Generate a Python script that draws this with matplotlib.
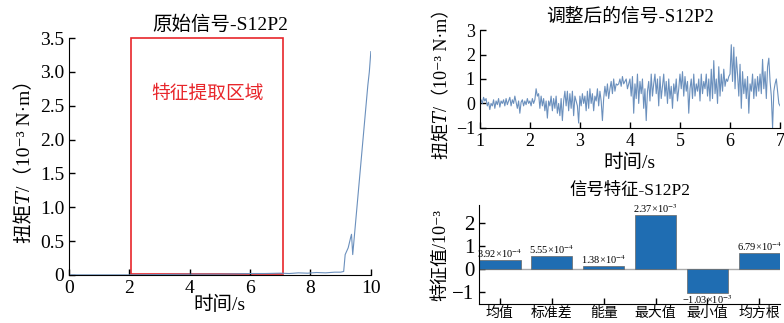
import numpy as np
import matplotlib
matplotlib.use("Agg")
import matplotlib.pyplot as plt

plt.rcParams['font.family'] = ['Liberation Serif', 'Noto Sans CJK SC', 'DejaVu Serif', 'DejaVu Sans']
plt.rcParams['font.weight'] = 'light'
plt.rcParams['mathtext.fontset'] = 'stix'
plt.rcParams['axes.unicode_minus'] = True

# -- raw signal (0..10 s)
t_raw = [0, 1, 2, 3, 4, 5, 6, 6.5, 7, 7.3, 7.6, 7.9, 8.2, 8.5, 8.8, 9.0, 9.1,
         9.15, 9.25, 9.33, 9.36, 9.4, 9.45, 9.5, 9.6, 9.7, 9.8, 9.9, 9.95, 10.0]
T_raw = [0, 0, 0, 0.005, 0.01, 0.01, 0.02, 0.02, 0.025, 0.02, 0.03, 0.025, 0.035, 0.03,
         0.04, 0.04, 0.05, 0.3, 0.4, 0.55, 0.6, 0.3, 0.55, 0.8, 1.3, 1.8, 2.3, 2.8, 3.0, 3.3]

# -- adjusted signal (1..7 s, dt = 0.025)
t_adj = np.linspace(1, 7, 241)
T_adj = [
    0.05, 0.15, 0.0, 0.25, 0.1, 0.2, -0.1, 0.05, -0.25, 0.0, -0.1, 0.15, -0.2, 0.1, -0.05, 0.2, -0.15, 0.1, 0.0, 0.15,
    -0.1, 0.2, -0.05, 0.1, 0.25, -0.1, 0.15, 0.0, 0.3, 0.05, -0.2, 0.1, -0.4, 0.05, 0.15, -0.1, 0.1, -0.05, 0.2, 0.0,
    0.1, -0.1, 0.2, 0.0, 0.15, 0.6, 0.3, 0.4, -0.2, 0.3, -0.1, 0.2, -0.3, 0.1, -0.6, 0.1, -0.1, 0.3, -0.3, 0.2,
    -0.2, 0.3, -0.4, 0.0, -0.5, 0.2, -0.7, 0.1, 0.5, -0.1, 0.5, -0.3, 0.4, -0.2, 0.5, -0.5, 0.3, 0.1, -0.1, -0.8,
    0.3, -0.1, 0.4, 0.0, 0.3, -0.3, 0.5, -0.2, 0.6, 0.0, 0.4, -0.3, 0.3, 0.1, 0.6, -0.1, 0.5, 0.1, -0.7, 0.2,
    0.7, 0.3, 0.8, 0.2, 0.6, 0.9, 0.4, 1.0, 0.5, 0.8, 0.75, 0.8, 1.0, 0.7, 1.1, 0.8, 0.9, 1.0, 0.6, 0.8,
    1.0, 0.3, 1.1, -0.4, 0.8, 0.2, 1.2, 0.0, 0.9, 0.4, 1.0, -0.2, 0.6, -0.7, 0.5, 0.9, 0.1, 1.2, 0.3, 0.8,
    1.2, 0.4, 1.0, -0.1, 1.1, 0.2, 0.7, 1.2, 0.3, 0.9, 0.0, 1.0, 0.2, 0.7, -0.2, 0.8, 0.4, 1.0, 0.1, 0.6,
    1.2, 0.6, 1.3, 0.3, 1.1, 0.5, 0.9, -0.4, 0.6, 1.0, 0.2, 1.2, 0.3, 0.8, 0.5, 1.0, 0.1, 1.2, 0.4, 0.9,
    0.6, 1.2, 0.3, 1.0, 0.1, 1.4, 0.2, 1.75, 0.4, 1.0, 0.0, 1.5, 0.3, 1.2, 0.5, 1.4, 0.7, 1.0, 0.9, 1.1,
    1.2, 2.4, 0.9, 2.3, 0.6, 1.9, 1.2, 0.3, 1.6, -0.2, 1.3, 0.4, 1.0, 0.2, 1.1, -0.4, 0.8, 0.5, 1.2, 0.2,
    1.0, 0.3, 1.1, 0.5, 1.2, 0.4, 1.8, 0.6, 1.3, 0.2, 1.5, 1.85, 0.9, 0.3, -1.0, 0.5, 0.8, 1.0, 0.5, 0.0, -0.1,
]

# -- features (x 10^-3)
feat_names = ['均值', '标准差', '能量', '最大值', '最小值', '均方根']
feat_vals = [0.392, 0.555, 0.138, 2.37, -1.03, 0.679]
feat_labels = [r'3.92×10$^{-4}$', r'5.55×10$^{-4}$', r'1.38×10$^{-4}$',
               r'2.37×10$^{-3}$', r'−1.03×10$^{-3}$', r'6.79×10$^{-4}$']

line_c = '#6b90bd'
ylab = '扭矩𝑇/（10⁻³ N·m）'

fig = plt.figure(figsize=(7.84, 3.23), dpi=100)

def style(ax, size):
    for s in ['top', 'right']:
        ax.spines[s].set_visible(False)
    ax.tick_params(direction='in', labelsize=size, length=4, width=1)

# left: raw signal
ax1 = fig.add_axes([0.088, 0.149, 0.385, 0.733])
ax1.plot(t_raw, T_raw, color=line_c, lw=0.8)
ax1.add_patch(plt.Rectangle((2.05, 0.01), 5.05, 3.49, fill=False, ec='#e8262b', lw=1.2, clip_on=False))
ax1.text(4.6, 2.68, '特征提取区域', color='#e8262b', fontsize=13.5, ha='center', va='center')
ax1.set_xlim(0, 10)
ax1.set_ylim(0, 3.5)
ax1.set_xticks([0, 2, 4, 6, 8, 10])
ax1.set_yticks([0, 0.5, 1.0, 1.5, 2.0, 2.5, 3.0, 3.5])
ax1.set_yticklabels(['0', '0.5', '1.0', '1.5', '2.0', '2.5', '3.0', '3.5'])
style(ax1, 14)
ax1.set_title('原始信号-S12P2', fontsize=14, pad=6)
ax1.set_xlabel('时间/s', fontsize=14, labelpad=-1)
ax1.set_ylabel(ylab, fontsize=14, labelpad=4)

# right top: adjusted signal
ax2 = fig.add_axes([0.612, 0.604, 0.383, 0.303])
ax2.plot(t_adj, T_adj, color=line_c, lw=0.8)
ax2.set_xlim(1, 7)
ax2.set_ylim(-1, 3)
ax2.set_xticks([1, 2, 3, 4, 5, 6, 7])
ax2.set_yticks([-1, 0, 1, 2, 3])
style(ax2, 13)
ax2.set_title('调整后的信号-S12P2', fontsize=13.5, pad=6)
ax2.set_xlabel('时间/s', fontsize=14, labelpad=3)
ax2.set_ylabel(ylab, fontsize=13, labelpad=3)

# right bottom: features
ax3 = fig.add_axes([0.611, 0.059, 0.384, 0.306])
x = np.arange(len(feat_vals))
ax3.axhline(0, color='#aaaaaa', lw=1, zorder=1)
bars = ax3.bar(x, feat_vals, width=0.8, color='#1f6db2', edgecolor='#666666', lw=0.5, zorder=2)
for b, v, lab in zip(bars, feat_vals, feat_labels):
    y = v if v >= 0 else v - 0.02
    ax3.text(b.get_x() + b.get_width() / 2, y, lab, fontsize=7.5, ha='center',
             va='bottom' if v >= 0 else 'top')
ax3.set_xlim(-0.4, 5.4)
ax3.set_ylim(-1.52, 2.78)
ax3.set_yticks([-1, 0, 1, 2])
ax3.set_xticks(x)
ax3.set_xticklabels(feat_names, fontsize=10)
style(ax3, 15)
ax3.tick_params(axis='x', labelsize=10, pad=2)
ax3.set_title('信号特征-S12P2', fontsize=12.5, pad=7)
ax3.set_ylabel('特征值/10⁻³', fontsize=13, labelpad=2)

fig.savefig('out.png', dpi=100)
